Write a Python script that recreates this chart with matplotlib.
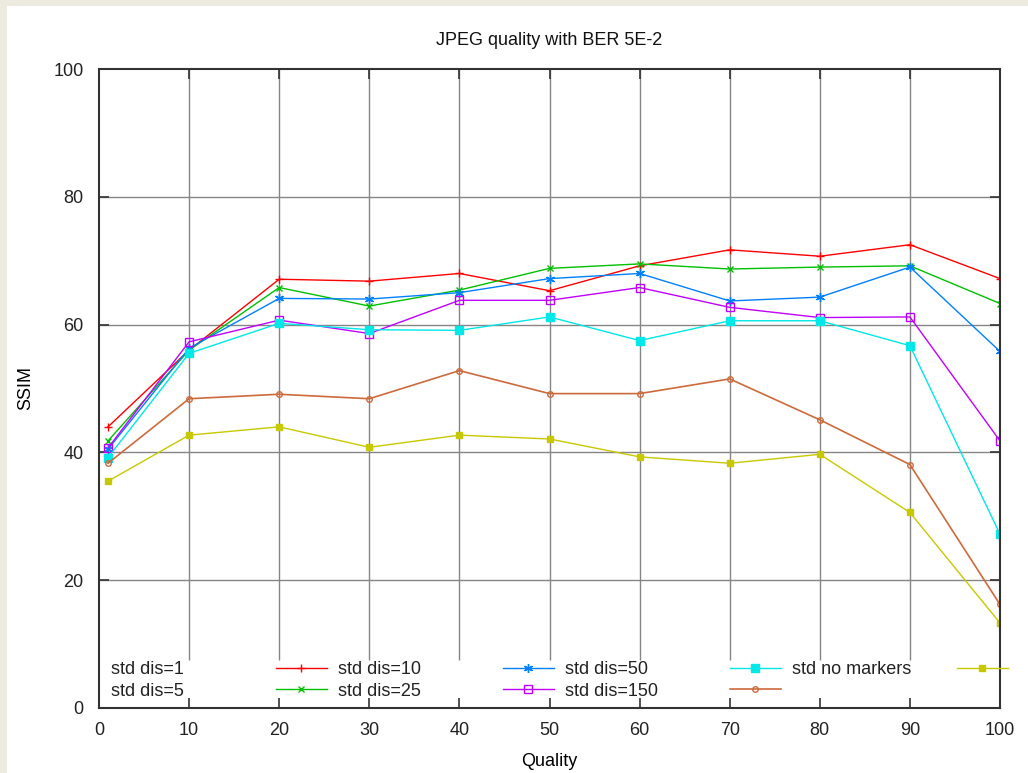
import matplotlib
matplotlib.use('Agg')
import matplotlib.pyplot as plt
from matplotlib.patches import Rectangle

plt.rcParams['font.family'] = ['Liberation Sans', 'DejaVu Sans']

# data
quality = [1, 10, 20, 30, 40, 50, 60, 70, 80, 90, 100]
dis_1 = [44.0, 56.0, 67.1, 66.8, 68.0, 65.3, 69.2, 71.7, 70.7, 72.5, 67.2]
dis_5 = [41.8, 56.0, 65.8, 62.9, 65.4, 68.8, 69.5, 68.7, 69.0, 69.2, 63.3]
dis_10 = [40.5, 56.3, 64.1, 64.0, 65.0, 67.2, 68.0, 63.7, 64.3, 69.0, 55.8]
dis_25 = [40.7, 57.3, 60.7, 58.6, 63.8, 63.8, 65.8, 62.7, 61.1, 61.2, 41.8]
dis_50 = [39.2, 55.5, 60.2, 59.2, 59.1, 61.2, 57.5, 60.6, 60.6, 56.7, 27.2]
dis_150 = [38.3, 48.4, 49.1, 48.4, 52.8, 49.2, 49.2, 51.5, 45.1, 38.1, 16.2]
no_markers = [35.5, 42.7, 44.0, 40.8, 42.7, 42.1, 39.3, 38.3, 39.7, 30.6, 13.3]

labels = ['std dis=1', 'std dis=5', 'std dis=10', 'std dis=25',
          'std dis=50', 'std dis=150', 'std no markers']
xticks = [0, 10, 20, 30, 40, 50, 60, 70, 80, 90, 100]
yticks = [0, 20, 40, 60, 80, 100]

fig = plt.figure(figsize=(10.28, 7.73), dpi=100, facecolor='#edeae0')
# white page with a beige strip on the top and left
fig.patches.append(Rectangle((7 / 1028, 0), 1, 1 - 6 / 773, transform=fig.transFigure,
                             facecolor='white', edgecolor='none', zorder=-10))
ax = fig.add_axes([99 / 1028, 65 / 773, 901 / 1028, 639 / 773])
ax.set_facecolor('white')

# gnuplot style grid, cut away under the key
ax.vlines(xticks[1:-1], 7.5, 100, color='#858585', lw=1.0, zorder=0.5)
ax.hlines(yticks[1:-1], 0, 100, color='#858585', lw=1.0, zorder=0.5)

lines = []
lines += ax.plot(quality, dis_1, color='#ff0000', lw=1.0, marker='+', ms=6, mew=1.0)
lines += ax.plot(quality, dis_5, color='#00c000', lw=1.0, marker='x', ms=5, mew=1.0)
lines += ax.plot(quality, dis_10, color='#0080ff', lw=1.0, marker=(6, 2, 0), ms=6.5, mew=1.0)
lines += ax.plot(quality, dis_25, color='#c000ff', lw=1.0, marker='s', ms=5.5, mfc='none', mew=1.0)
lines += ax.plot(quality, dis_50, color='#00e8e8', lw=1.0, marker='s', ms=5.5)
lines += ax.plot(quality, dis_150, color='#cd6a3c', lw=1.2, marker='o', ms=4, mfc='none', mew=1.0)
lines += ax.plot(quality, no_markers, color='#c8c800', lw=1.0, marker='s', ms=3.8)

ax.set_xlim(0, 100)
ax.set_ylim(0, 100)
ax.set_xticks(xticks)
ax.set_yticks(yticks)
ax.tick_params(direction='in', length=7, width=1.2, top=True, right=True,
               labelsize=13, labelcolor='#222222', color='#333333')
ax.tick_params(axis='y', pad=11)
ax.tick_params(axis='x', pad=10)
for s in ax.spines.values():
    s.set_linewidth(1.5)
    s.set_color('#333333')

ax.set_title('JPEG quality with BER 5E-2', fontsize=13, pad=17, color='#111111')
ax.set_xlabel('Quality', fontsize=13, labelpad=10)
ax.set_ylabel('SSIM', fontsize=13, labelpad=14)

# key: labels and samples sit in fixed gnuplot columns
pitch = 227 / 901
for i, lab in enumerate(labels):
    col, row = divmod(i, 2)
    ax.text(12 / 901 + col * pitch, [0.0595, 0.0266][row], lab, transform=ax.transAxes,
            fontsize=13, va='center', ha='left', color='#222222')

ax.legend(lines, [''] * len(lines), ncol=4, loc='center left',
          bbox_to_anchor=(177 / 901, 0.043), frameon=False, fontsize=13,
          handlelength=2.82, handletextpad=0, columnspacing=9.75,
          borderpad=0, borderaxespad=0, labelspacing=0.2)

fig.savefig('out.png', dpi=100, facecolor=fig.get_facecolor())
